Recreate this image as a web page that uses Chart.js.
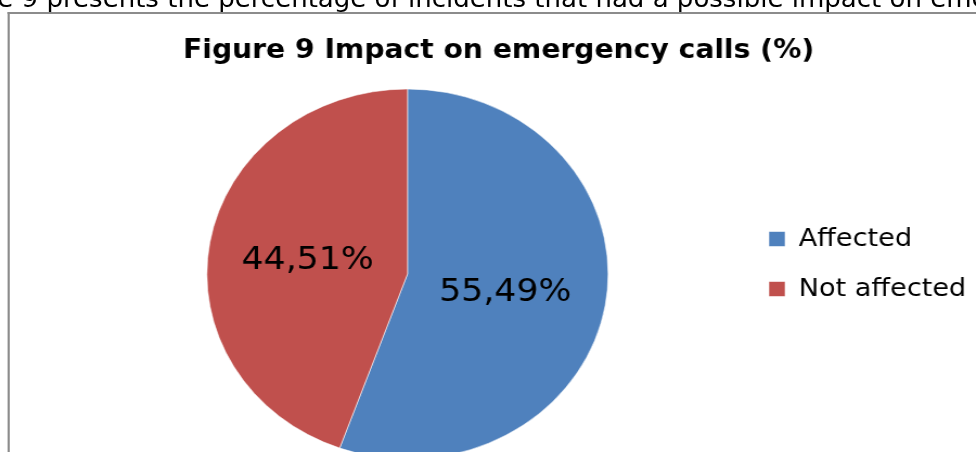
<!DOCTYPE html>
<html>
<head>
<meta charset="utf-8">
<script src="https://cdn.jsdelivr.net/npm/chart.js@4/dist/chart.umd.min.js"></script>
<style>
  html, body { margin: 0; padding: 0; background: #fff; overflow: hidden; }
  body { width: 976px; height: 452px; }
  #page {
    position: relative;
    width: 1000px;
    height: 490px;
    transform: scaleX(1.0844);
    transform-origin: 0 0;
  }
  #lead {
    position: absolute;
    left: -61px;
    top: -11px;
    font: 24px "DejaVu Sans", sans-serif;
    line-height: 20px;
    white-space: nowrap;
    color: #000;
  }
  #frame {
    position: absolute;
    left: 7px;
    top: 12px;
    width: 2000px;
    height: 1000px;
    border-left: 2px solid #8c8c8c;
    border-top: 2px solid #8c8c8c;
  }
  #chart { position: absolute; left: 0; top: 0; }
</style>
</head>
<body>
<div id="page">
  <div id="lead">Figure 9 presents the percentage of incidents that had a possible impact on emergency calls</div>
  <div id="frame"></div>
  <canvas id="chart" width="1000" height="490"></canvas>
</div>
<script>
const categories = ['Affected', 'Not affected'];
const shares = [55.49, 44.51];
const sliceColors = ['#4f81bd', '#c0504d'];

Chart.defaults.font.family = '"DejaVu Sans", Verdana, sans-serif';
Chart.defaults.color = '#000';

// percentage text in the middle of each slice
const pctLabels = {
  id: 'pctLabels',
  afterDatasetsDraw(chart) {
    const ctx = chart.ctx;
    const meta = chart.getDatasetMeta(0);
    ctx.save();
    ctx.font = '32px "DejaVu Sans", Verdana, sans-serif';
    ctx.fillStyle = '#000';
    ctx.textAlign = 'center';
    ctx.textBaseline = 'middle';
    meta.data.forEach((arc, i) => {
      const p = arc.tooltipPosition();
      ctx.fillText(shares[i].toFixed(2).replace('.', ',') + '%', p.x - 1, p.y + 3);
    });
    ctx.restore();
  }
};

// legend keeps a narrow box for layout, but its text may run to the canvas edge
const legendOverflow = {
  id: 'legendOverflow',
  afterLayout(chart) {
    const lg = chart.legend;
    lg.right = chart.width;
    lg.width = lg.right - lg.left;
  }
};

new Chart(document.getElementById('chart'), {
  type: 'pie',
  data: {
    labels: categories,
    datasets: [{
      data: shares,
      backgroundColor: sliceColors,
      borderColor: 'rgba(255, 255, 255, 0.55)',
      borderWidth: 1
    }]
  },
  options: {
    responsive: false,
    animation: false,
    devicePixelRatio: 1,
    radius: 185,
    layout: {
      padding: { top: 41, left: 67.6, right: 148, bottom: 3 }
    },
    plugins: {
      title: {
        display: true,
        text: 'Figure 9 Impact on emergency calls (%)',
        font: { size: 26, weight: 'bold', lineHeight: '20px' },
        padding: 0
      },
      legend: {
        position: 'right',
        maxWidth: 168,
        labels: {
          boxWidth: 15,
          boxHeight: 15,
          padding: 25,
          font: { size: 25 }
        }
      },
      tooltip: { enabled: false }
    }
  },
  plugins: [pctLabels, legendOverflow]
});
</script>
</body>
</html>
